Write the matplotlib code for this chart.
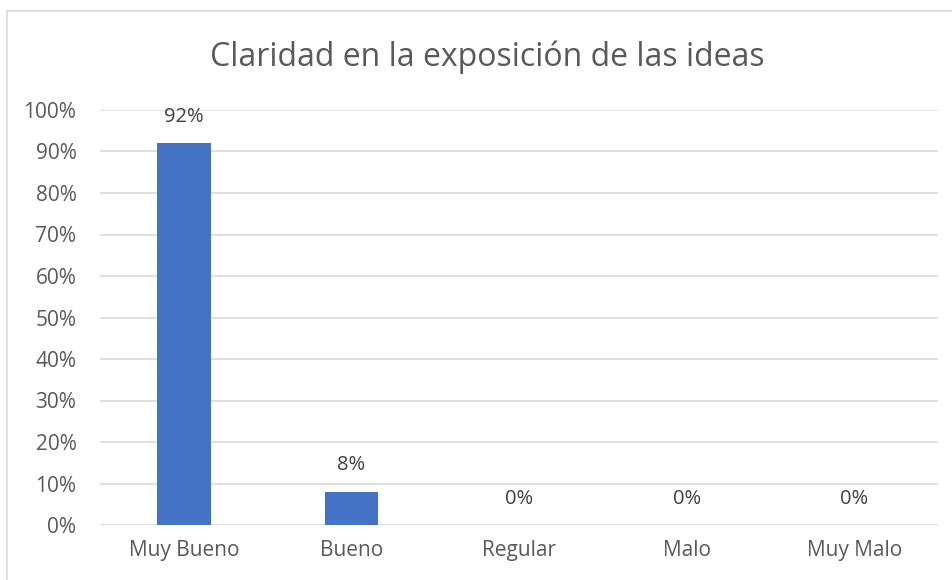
import numpy as np
import matplotlib.pyplot as plt

categories = ['Muy Bueno', 'Bueno', 'Regular', 'Malo', 'Muy Malo']
values = [92, 8, 0, 0, 0]
yticks = list(range(0, 101, 10))

plt.rcParams['font.family'] = ['Open Sans', 'DejaVu Sans']

fig = plt.figure(figsize=(9.53, 5.8), dpi=100)
ax = fig.add_axes([100/953, 55/580, 838/953, 415/580])

x = np.arange(len(categories))
ax.bar(x, values, width=0.32, color='#4472C4', zorder=3)
for xi, v in zip(x, values):
  ax.annotate(str(v) + '%', (xi, v), xytext=(0, 19), textcoords='offset points',
              ha='center', va='center', fontsize=14.5, color='#404040')

ax.set_xlim(-0.5, len(categories) - 0.5)
ax.set_ylim(0, 100)
ax.set_yticks(yticks)
ax.set_yticklabels([str(t) + '%' for t in yticks])
ax.set_xticks(x)
ax.set_xticklabels(categories)
ax.tick_params(axis='both', length=0, labelsize=15, labelcolor='#595959')
ax.tick_params(axis='y', pad=17)
ax.tick_params(axis='x', pad=11)
ax.grid(axis='y', color='#d9d9d9', linewidth=1.2, zorder=0)
for s in ax.spines.values():
  s.set_visible(False)

fig.text(487/953, 1 - 57/580, 'Claridad en la exposición de las ideas', ha='center', va='center',
         fontsize=23, color='#595959')

# chart border
fig.add_artist(plt.Line2D([7/953, 1], [1 - 11/580, 1 - 11/580], color='#d9d9d9', linewidth=1.2))
fig.add_artist(plt.Line2D([7/953, 7/953], [0, 1 - 11/580], color='#d9d9d9', linewidth=1.2))

fig.savefig('out.png', dpi=100)
